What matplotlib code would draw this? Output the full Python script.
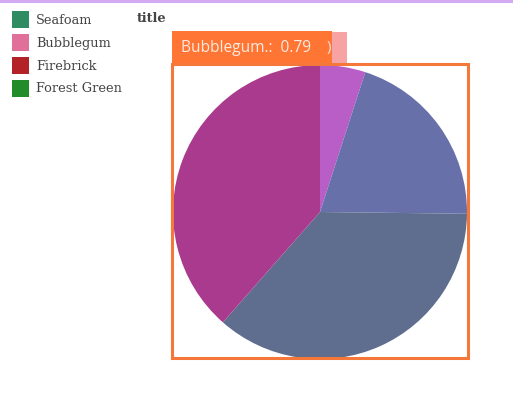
import matplotlib.pyplot as plt
from matplotlib.patches import Rectangle

# data
legend_names = ['Seafoam', 'Bubblegum', 'Firebrick', 'Forest Green']
legend_colors = ['#2e8b62', '#e0709a', '#b22226', '#228b2a']

slice_names = ['Bubblegum', 'Seafoam', 'Forest Green', 'Firebrick']
slice_values = [0.79, 3.2, 5.75, 6.1]
slice_colors = ['#b85ec6', '#6870aa', '#5f6e8e', '#a93a8e']

tooltip_label = 'Bubblegum.:'
tooltip_value = 0.79

W, H = 513, 400
fig = plt.figure(figsize=(W / 100, H / 100), dpi=100)

# pie: center (320, 212), radius 147 px
cx, cy, r = 320, 212, 147
ax = fig.add_axes([(cx - r) / W, (H - cy - r) / H, 2 * r / W, 2 * r / H])
ax.pie(slice_values, colors=slice_colors, startangle=90, counterclock=False,
       wedgeprops=dict(linewidth=0))
ax.set_xlim(-1, 1)
ax.set_ylim(-1, 1)
ax.axis('off')

# overlay in pixel coordinates
ov = fig.add_axes([0, 0, 1, 1])
ov.set_xlim(0, W)
ov.set_ylim(H, 0)
ov.axis('off')
ov.patch.set_alpha(0)

# top border line
ov.add_patch(Rectangle((0, 0), W, 2.5, color='#d3aaf2', lw=0))

# legend
for i, (name, col) in enumerate(zip(legend_names, legend_colors)):
    y = 19 + i * 23
    ov.add_patch(Rectangle((12, y - 8), 17, 17, color=col, lw=0))
    ov.text(36, y + 1, name, fontsize=9.3, family='DejaVu Serif', color='#444444',
            va='center', ha='left')

ov.text(137, 18, 'title', fontsize=9.3, family='DejaVu Serif', weight='bold',
        color='#444444', va='center', ha='left')

# selection rectangle
ov.add_patch(Rectangle((172, 64), 296, 294, fill=False, ec='#f5783a', lw=2.2))

# tooltip
ov.add_patch(Rectangle((172, 32), 175, 31, color='#f8a3a3', lw=0))
ov.text(327, 48, ')', fontsize=11, family='Open Sans', color='#fcdede',
        va='center', ha='left')
ov.add_patch(Rectangle((172, 31), 160, 32, color='#ff7533', lw=0))
ov.text(181, 48, f'{tooltip_label}  {tooltip_value}', fontsize=11.2,
        family='Open Sans', color='#feeadf', va='center', ha='left')

fig.savefig('out.png', dpi=100)
